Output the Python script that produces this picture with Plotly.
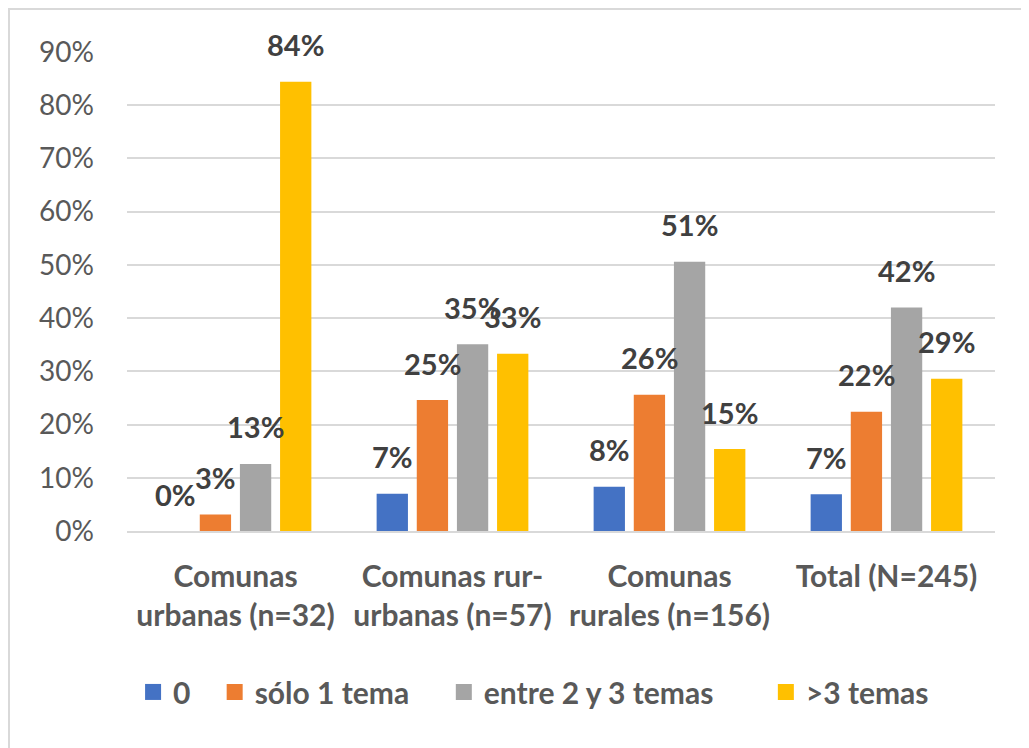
import plotly.graph_objects as go

# Categories and series (shares, 0-1)
categorias = [
    "Comunas<br>urbanas (n=32)",
    "Comunas rur-<br>urbanas (n=57)",
    "Comunas<br>rurales (n=156)",
    "Total (N=245)",
]
series = ["0", "sólo 1 tema", "entre 2 y 3 temas", ">3 temas"]
val_0 = [0.0, 0.07, 0.083, 0.069]
val_1_tema = [0.031, 0.246, 0.256, 0.224]
val_2_3_temas = [0.126, 0.351, 0.506, 0.420]
val_mas_3 = [0.844, 0.333, 0.154, 0.286]

COLORES = ["#4472C4", "#ED7D31", "#A5A5A5", "#FFC000"]
FUENTE = "Lato"

# layout constants
ANCHO, ALTO = 1021, 740
M_IZQ, M_DER, M_SUP, M_INF = 119, 34, 44, 217
BARGAP = 0.26
ancho_plot = ANCHO - M_IZQ - M_DER
alto_plot = ALTO - M_SUP - M_INF
slot = ancho_plot / len(categorias) * (1 - BARGAP) / len(series)
# left edge (paper x) of each legend entry, like the Excel legend spacing
LEYENDA_X = [0.007, 0.101, 0.365, 0.736]

fig = go.Figure()
anotaciones = []
leyendas = {}
for i, (nombre, vals, color) in enumerate(
    zip(series, [val_0, val_1_tema, val_2_3_temas, val_mas_3], COLORES)
):
    fig.add_trace(
        go.Bar(
            x=categorias,
            y=vals,
            name=nombre,
            marker=dict(color=color, line=dict(width=0)),
            showlegend=False,
        )
    )
    # legend-only entry with a larger square swatch
    clave = "legend" if i == 0 else f"legend{i + 1}"
    fig.add_trace(
        go.Scatter(
            x=[None],
            y=[None],
            mode="markers",
            name=nombre,
            marker=dict(symbol="square", size=16, color=color),
            legend=clave,
            hoverinfo="skip",
        )
    )
    leyendas[clave] = dict(
        orientation="h",
        x=LEYENDA_X[i],
        xanchor="left",
        y=-0.336,
        yanchor="middle",
        font=dict(family=FUENTE, size=30, color="#595959", weight="bold"),
        bgcolor="rgba(0,0,0,0)",
    )
    # data labels above each bar
    for cat, v in zip(categorias, vals):
        anotaciones.append(
            dict(
                x=cat,
                y=v,
                xref="x",
                yref="y",
                text=f"{v:.0%}",
                showarrow=False,
                xshift=(i - (len(series) - 1) / 2) * slot,
                yshift=37,
                yanchor="middle",
                font=dict(family=FUENTE, size=29, color="#404040", weight="bold"),
            )
        )

fig.update_layout(
    barmode="group",
    bargap=BARGAP,
    bargroupgap=0.22,
    width=ANCHO,
    height=ALTO,
    margin=dict(l=M_IZQ, r=M_DER, t=M_SUP, b=M_INF),
    plot_bgcolor="white",
    paper_bgcolor="white",
    font=dict(family=FUENTE, color="#595959"),
    showlegend=True,
    annotations=anotaciones,
    shapes=[
        dict(
            type="rect",
            xref="paper",
            yref="paper",
            x0=-1 * (M_IZQ - 1) / ancho_plot,
            x1=1.06,
            y0=-0.5,
            y1=1 + (M_SUP - 1) / alto_plot,
            line=dict(color="#d9d9d9", width=2),
            layer="below",
        )
    ],
    **leyendas,
)
fig.update_yaxes(
    range=[0, 0.9],
    dtick=0.1,
    tickformat=".0%",
    showgrid=True,
    gridcolor="#d9d9d9",
    gridwidth=2,
    zeroline=False,
    tickfont=dict(family=FUENTE, size=28, color="#595959"),
    ticklabelstandoff=32,
)
fig.update_xaxes(
    showline=True,
    linecolor="#d9d9d9",
    linewidth=2,
    tickfont=dict(family=FUENTE, size=30, color="#595959", weight="bold"),
    ticklabelstandoff=18,
)

fig.write_html("out.html")
